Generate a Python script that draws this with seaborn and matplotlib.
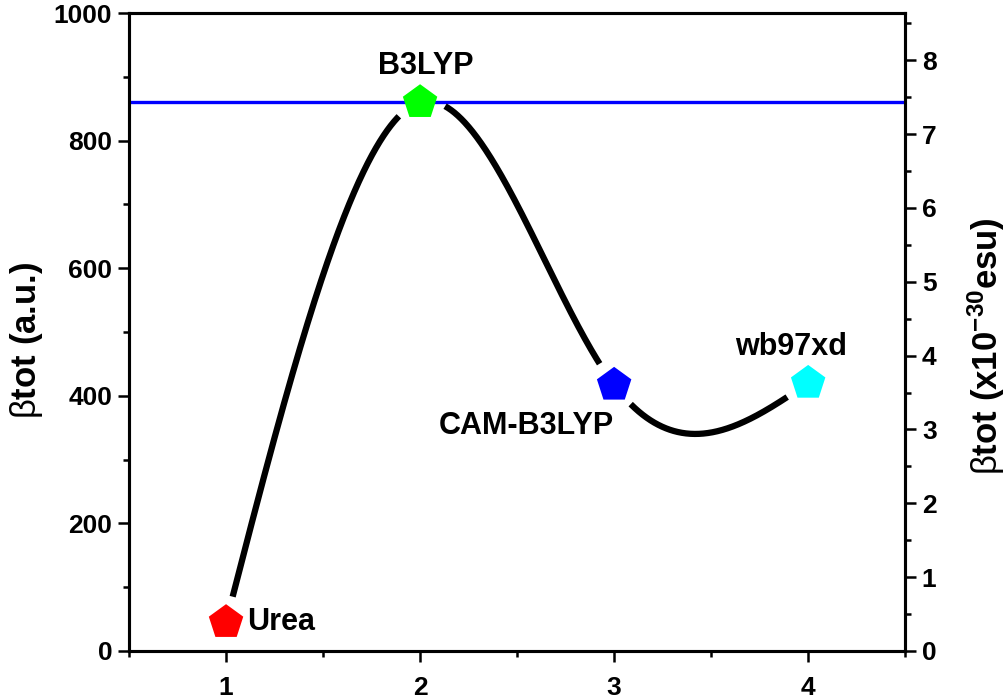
import numpy as np
import pandas as pd
import matplotlib
matplotlib.use("Agg")
import matplotlib.pyplot as plt
import seaborn as sns
from matplotlib.ticker import MultipleLocator

# ---- data ----
methods = ["Urea", "B3LYP", "CAM-B3LYP", "wb97xd"]
x_pos = [1, 2, 3, 4]
beta_au = [45, 860, 417, 420]
colors = ["#ff0000", "#00ff00", "#0000ff", "#00ffff"]
ref_line = 860
au_to_esu = 8.6393e-3  # (x10^-30 esu) per a.u.

sns.set_theme(style="ticks")
plt.rcParams["font.family"] = ["Liberation Sans", "DejaVu Sans"]
plt.rcParams["mathtext.fontset"] = "custom"
plt.rcParams["mathtext.rm"] = "Liberation Sans"
plt.rcParams["mathtext.bf"] = "Liberation Sans:bold"
plt.rcParams["mathtext.it"] = "Liberation Sans:italic"
for k in ["text.color", "axes.labelcolor", "xtick.color", "ytick.color", "axes.edgecolor"]:
    plt.rcParams[k] = "black"

fig = plt.figure(figsize=(10.08, 6.99), dpi=100)
ax = fig.add_axes([0.128, 0.0687, 0.770, 0.9127])
ax.set_xlim(0.5, 4.5)
ax.set_ylim(0, 1000)

df = pd.DataFrame({"method": methods, "x": x_pos, "beta": beta_au})


# natural cubic spline through the points (Origin "spline" connection)
def natural_spline(xk, yk, xq):
    xk = np.asarray(xk, float); yk = np.asarray(yk, float)
    n = len(xk)
    h = np.diff(xk)
    A = np.zeros((n, n)); b = np.zeros(n)
    A[0, 0] = 1; A[-1, -1] = 1
    for i in range(1, n - 1):
        A[i, i - 1] = h[i - 1]; A[i, i] = 2 * (h[i - 1] + h[i]); A[i, i + 1] = h[i]
        b[i] = 6 * ((yk[i + 1] - yk[i]) / h[i] - (yk[i] - yk[i - 1]) / h[i - 1])
    M = np.linalg.solve(A, b)
    out = np.empty_like(xq)
    for j, x in enumerate(xq):
        i = min(np.searchsorted(xk, x, side="right") - 1, n - 2)
        i = max(i, 0)
        t1 = xk[i + 1] - x; t0 = x - xk[i]
        out[j] = (M[i] * t1**3 / (6 * h[i]) + M[i + 1] * t0**3 / (6 * h[i])
                  + (yk[i] / h[i] - M[i] * h[i] / 6) * t1
                  + (yk[i + 1] / h[i] - M[i + 1] * h[i] / 6) * t0)
    return out


xs = np.linspace(min(x_pos), max(x_pos), 1500)
ys = natural_spline(x_pos, beta_au, xs)
disp = ax.transData.transform(np.c_[xs, ys])
mdisp = ax.transData.transform(np.c_[x_pos, beta_au])
dmin = np.min(np.hypot(disp[:, None, 0] - mdisp[None, :, 0],
                       disp[:, None, 1] - mdisp[None, :, 1]), axis=1)
gap_px = 25
ys_gap = np.where(dmin < gap_px, np.nan, ys)
ax.plot(xs, ys_gap, color="black", lw=4.5, solid_capstyle="butt", zorder=2)

ax.axhline(ref_line, color="#0000ff", lw=2.4, zorder=1)

sns.scatterplot(data=df, x="x", y="beta", hue="method", palette=colors,
                marker="p", s=680, linewidth=0, legend=False, ax=ax, zorder=3)

# annotations
fs_ann = 22
ax.text(1.11, beta_au[0], methods[0], fontsize=fs_ann, fontweight="bold", ha="left", va="center")
ax.text(2.03, beta_au[1] + 57, methods[1], fontsize=fs_ann, fontweight="bold", ha="center", va="center")
ax.text(2.55, beta_au[2] - 64, methods[2], fontsize=fs_ann, fontweight="bold", ha="center", va="center")
ax.text(3.91, beta_au[3] + 56, methods[3], fontsize=fs_ann, fontweight="bold", ha="center", va="center")

ax.set_xlabel("")
ax.set_ylabel(r"$\mathrm{\beta}$tot (a.u.)", fontsize=25, fontweight="bold")
ax.yaxis.set_label_coords(-0.108, 0.487)
ax.set_xticks(x_pos)
ax.xaxis.set_minor_locator(MultipleLocator(0.5))
ax.yaxis.set_major_locator(MultipleLocator(200))
ax.yaxis.set_minor_locator(MultipleLocator(100))

ax2 = ax.twinx()
ax2.set_ylim(0, 1000 * au_to_esu)
ax2.yaxis.set_major_locator(MultipleLocator(1))
ax2.yaxis.set_minor_locator(MultipleLocator(0.5))
ax2.set_ylabel(r"$\mathrm{\beta}$tot (x10$^{\mathbf{-30}}$esu)", fontsize=25, fontweight="bold")
ax2.yaxis.set_label_coords(1.078, 0.478)

for a in (ax, ax2):
    for s in a.spines.values():
        s.set_linewidth(2.2)
        s.set_color("black")
    a.tick_params(which="major", direction="out", length=8, width=1.8, labelsize=19, pad=4)
    a.tick_params(which="minor", direction="out", length=4.5, width=1.8)
    for lab in a.get_xticklabels() + a.get_yticklabels():
        lab.set_fontweight("bold")
ax.tick_params(axis="x", which="major", pad=10)
ax.tick_params(axis="y", which="both", right=False)
ax2.tick_params(axis="y", which="both", left=False)

fig.savefig("out.png", dpi=100)
